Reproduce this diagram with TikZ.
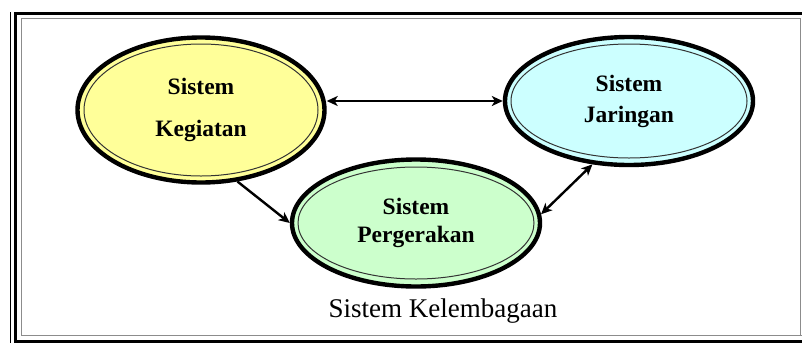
\documentclass[tikz,border=0pt]{standalone}
\usepackage{fontspec}
\setmainfont{Liberation Serif}
\usetikzlibrary{arrows.meta,shapes.geometric}
\definecolor{kyellow}{HTML}{FFFF99}
\definecolor{jcyan}{HTML}{CCFFFF}
\definecolor{pgreen}{HTML}{CCFFCC}
\definecolor{framegray}{HTML}{8C8C8C}
\tikzset{
  sysnode/.style={ellipse, draw=black, line width=4.4pt, inner sep=0pt, align=center},
  innerring/.style={draw=black!80, line width=1pt},
  tip/.style={},
  conn/.style={line width=2.4pt, -{Stealth[length=11pt,width=10pt,inset=3pt]}},
  biconn/.style={line width=2.4pt, {Stealth[length=11pt,width=10pt,inset=3pt]}-{Stealth[length=11pt,width=10pt,inset=3pt]}},
  framethick/.style={line width=3pt, black},
  framethin/.style={line width=1.4pt, black},
  framegrey/.style={line width=1.6pt, framegray},
}
\begin{document}
\begin{tikzpicture}[x=1pt,y=-1pt]
\useasboundingbox (0,0) rectangle (802,343);
% frame
\draw[framethin] (10.5,12) -- (10.5,343);
\draw[framethick] (15.5,12) -- (15.5,343);
\draw[framethick] (14,13.5) -- (802,13.5);
\draw[framegrey] (21,18.5) -- (800,18.5);
\draw[framegrey] (21.5,18) -- (21.5,336);
\draw[framegrey] (800.5,18) -- (800.5,336);
\draw[framegrey] (21,335.5) -- (802,335.5);
\draw[framethick] (15,341) -- (802,341);
% systems
\node[sysnode, fill=kyellow, minimum width=247pt, minimum height=145pt,
      font=\fontsize{23.5}{42}\selectfont\bfseries] (k) at (201,110) {Sistem\\Kegiatan};
\draw[innerring] (k.center) ellipse [x radius=117pt, y radius=66pt];
\node[sysnode, fill=jcyan, minimum width=248pt, minimum height=128pt,
      font=\fontsize{23.5}{31}\selectfont\bfseries] (j) at (629,101) {Sistem\\Jaringan};
\draw[innerring] (j.center) ellipse [x radius=118pt, y radius=57pt];
\node[sysnode, fill=pgreen, minimum width=248pt, minimum height=127pt,
      font=\fontsize{23.5}{28}\selectfont\bfseries] (p) at (416,223) {Sistem\\Pergerakan};
\draw[innerring] (p.center) ellipse [x radius=118pt, y radius=56pt];
% connectors
\draw[biconn] (k.east |- j.east) -- (j.west);
\draw[conn] (k.-63) -- (p.west);
\draw[biconn] (p.4) -- (j.-120);
% label
\node[font=\fontsize{27}{30}\selectfont] (lbl) at (443,311) {Sistem Kelembagaan};
\end{tikzpicture}
\end{document}
